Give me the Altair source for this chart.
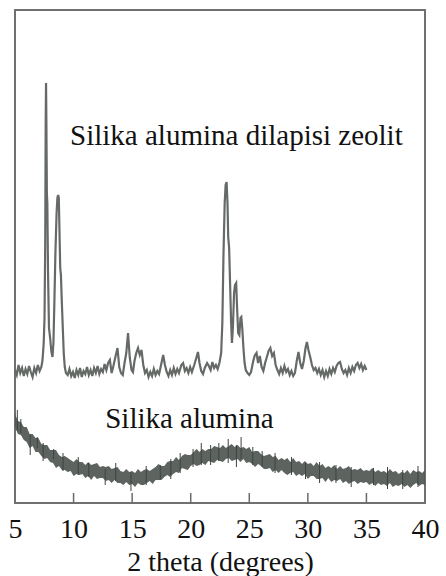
import altair as alt
import pandas as pd

# ---- Silika alumina dilapisi zeolit (upper pattern) ----
zeo_deg = [5.00, 5.15, 5.30, 5.45, 5.60, 5.75, 5.90, 6.05, 6.20, 6.35, 6.50, 6.65, 6.80, 6.95, 7.10, 7.25,
           7.35, 7.45, 7.52, 7.58, 7.62, 7.65, 7.68, 7.72, 7.76, 7.82, 7.90, 8.00, 8.10, 8.20, 8.28, 8.36,
           8.45, 8.55, 8.62, 8.68, 8.74, 8.80, 8.86, 8.92, 9.00, 9.08, 9.16, 9.25, 9.35, 9.50, 9.65, 9.80,
           9.95, 10.10, 10.25, 10.40, 10.55, 10.70, 10.85, 11.00, 11.15, 11.30, 11.45, 11.60, 11.75, 11.90,
           12.05, 12.20, 12.35, 12.50, 12.65, 12.80, 12.95, 13.10, 13.25, 13.40, 13.55, 13.75, 13.90, 14.05,
           14.20, 14.35, 14.50, 14.65, 14.80, 14.95, 15.07, 15.20, 15.35, 15.50, 15.65, 15.80, 15.95, 16.10,
           16.25, 16.40, 16.55, 16.70, 16.85, 17.00, 17.15, 17.30, 17.45, 17.65, 17.80, 17.95, 18.10, 18.25,
           18.40, 18.55, 18.70, 18.85, 19.00, 19.20, 19.35, 19.50, 19.65, 19.80, 19.95, 20.10, 20.30, 20.45,
           20.62, 20.75, 20.90, 21.05, 21.20, 21.40, 21.55, 21.70, 21.85, 22.00, 22.15, 22.30, 22.45, 22.60,
           22.70, 22.80, 22.90, 22.98, 23.06, 23.14, 23.20, 23.28, 23.36, 23.45, 23.52, 23.60, 23.70, 23.78,
           23.88, 23.96, 24.05, 24.15, 24.25, 24.32, 24.40, 24.50, 24.60, 24.70, 24.85, 25.00, 25.15, 25.30,
           25.45, 25.62, 25.75, 25.90, 26.05, 26.20, 26.35, 26.50, 26.65, 26.80, 26.95, 27.10, 27.25, 27.40,
           27.55, 27.70, 27.85, 28.00, 28.15, 28.30, 28.45, 28.60, 28.75, 28.90, 29.05, 29.20, 29.35, 29.50,
           29.65, 29.80, 29.92, 30.05, 30.20, 30.35, 30.50, 30.65, 30.80, 30.95, 31.10, 31.25, 31.40, 31.55,
           31.70, 31.85, 32.00, 32.15, 32.30, 32.45, 32.60, 32.75, 32.90, 33.05, 33.20, 33.35, 33.50, 33.65,
           33.80, 33.95, 34.10, 34.25, 34.40, 34.55, 34.70, 34.85, 35.00]
zeo_int = [133, 128, 138, 130, 135, 127, 134, 129, 137, 131, 126, 135, 130, 138, 132, 136,
           143, 160, 185, 260, 380, 420, 380, 310, 300, 230, 175, 165, 152, 146, 160, 200,
           250, 290, 305, 308, 305, 270, 235, 228, 200, 175, 150, 136, 130, 128, 134, 127,
           131, 125, 133, 128, 135, 126, 132, 129, 136, 128, 133, 127, 135, 130,
           137, 129, 134, 131, 139, 133, 140, 143, 130, 137, 145, 155, 136, 130,
           128, 140, 150, 170, 145, 133, 131, 142, 150, 155, 148, 153, 138, 130,
           133, 126, 131, 127, 134, 128, 132, 129, 137, 148, 138, 131, 127, 133,
           128, 135, 129, 134, 130, 138, 140, 132, 135, 130, 136, 131, 138, 144,
           151, 140, 132, 129, 135, 140, 137, 133, 141, 135, 138, 134, 140, 150,
           180, 250, 300, 318, 321, 300, 266, 255, 220, 180, 160, 175, 210, 218,
           220, 195, 170, 168, 185, 186, 175, 155, 140, 133, 130, 128, 131, 140,
           147, 150, 140, 147, 136, 132, 140, 146, 152, 155, 147, 150, 138, 133,
           129, 135, 130, 137, 131, 134, 128, 132, 127, 130, 142, 151, 140, 134,
           142, 155, 161, 153, 146, 138, 133, 135, 130, 134, 128, 133, 126, 132,
           127, 134, 129, 135, 131, 137, 140, 141, 134, 130, 133, 128, 135, 130,
           136, 132, 138, 140, 135, 139, 133, 137, 133]

# ---- Silika alumina (lower amorphous pattern): noisy band edges, every 0.25 deg ----
sa_deg = [5 + 0.25 * i for i in range(141)]
sa_top = [89, 82, 81, 76, 76, 69, 69, 65, 65, 59,
          58, 58, 53, 53, 53, 48, 46, 47, 45, 43,
          41, 44, 41, 41, 38, 41, 38, 39, 40, 36,
          37, 36, 37, 34, 35, 36, 32, 31, 34, 31,
          32, 30, 34, 31, 33, 34, 32, 34, 36, 39,
          37, 37, 41, 42, 42, 46, 43, 47, 49, 48,
          48, 51, 54, 51, 54, 52, 54, 54, 57, 56,
          55, 58, 55, 57, 59, 56, 58, 55, 56, 54,
          56, 51, 52, 52, 49, 47, 48, 49, 46, 47,
          43, 45, 43, 45, 41, 45, 41, 42, 39, 42,
          39, 40, 37, 41, 37, 39, 35, 37, 35, 38,
          34, 37, 34, 35, 37, 33, 34, 33, 35, 32,
          33, 32, 35, 31, 33, 31, 32, 30, 34, 31,
          32, 29, 31, 30, 33, 29, 33, 31, 32, 30,
          33]
sa_bot = [76, 69, 68, 63, 61, 55, 57, 51, 51, 47,
          44, 45, 41, 40, 35, 37, 33, 33, 31, 32,
          27, 29, 28, 29, 25, 27, 23, 27, 24, 25,
          25, 22, 23, 20, 23, 20, 20, 18, 21, 18,
          19, 16, 20, 18, 18, 20, 22, 19, 23, 23,
          23, 26, 28, 26, 29, 31, 30, 35, 34, 33,
          37, 39, 37, 38, 40, 38, 42, 41, 40, 43,
          42, 41, 44, 45, 42, 43, 44, 41, 44, 40,
          41, 39, 36, 39, 37, 34, 34, 35, 31, 33,
          30, 33, 30, 28, 30, 31, 27, 29, 27, 29,
          24, 27, 27, 24, 24, 25, 21, 25, 21, 23,
          22, 24, 20, 22, 19, 21, 22, 19, 21, 20,
          21, 18, 20, 17, 20, 18, 19, 17, 20, 16,
          18, 17, 19, 16, 18, 15, 18, 20, 17, 19,
          18]

# noise spikes of the lower pattern
spike_deg = [5.2, 5.5, 6.3, 6.9, 7.4, 8.3, 9.1, 10.4, 11.3, 12.7, 13.6, 14.9, 16.2, 17.4, 18.3,
             19.1, 20.2, 20.9, 21.7, 22.4, 23.2, 23.9, 24.3, 25.3, 26.1, 27.2, 28.6, 29.8, 31.0,
             32.4, 33.7, 35.6, 36.8, 38.1, 39.4]
spike_lo = [72, 70, 48, 55, 42, 44, 32, 28, 26, 18, 22, 12, 18, 24, 24,
            30, 36, 38, 38, 42, 40, 36, 44, 38, 36, 30, 28, 24, 20,
            20, 16, 18, 14, 14, 16]
spike_hi = [93, 84, 68, 66, 60, 54, 50, 46, 40, 34, 40, 31, 37, 38, 44,
            50, 54, 60, 58, 60, 64, 58, 66, 56, 52, 50, 46, 40, 41,
            38, 36, 35, 36, 33, 37]

tick_values = [5, 10, 15, 20, 25, 30, 35, 40]
inner_ticks = [10, 15, 20, 25, 30, 35]

labels = ["Silika alumina dilapisi zeolit", "Silika alumina"]
label_x = [9.7, 12.7]
label_y = [358, 75]

zeo = pd.DataFrame({"deg": zeo_deg, "inten": zeo_int})
sa = pd.DataFrame({"deg": sa_deg, "top": sa_top, "bot": sa_bot})
spikes = pd.DataFrame({"deg": spike_deg, "lo": spike_lo, "hi": spike_hi})
ticks = pd.DataFrame({"deg": inner_ticks, "y0": [0] * len(inner_ticks), "y1": [10] * len(inner_ticks)})
ann = pd.DataFrame({"text": labels, "deg": label_x, "inten": label_y})

FONT = "Liberation Serif, Times New Roman, serif"
xs = alt.Scale(domain=[5, 40], nice=False, zero=False)
ys = alt.Scale(domain=[0, 493], nice=False, zero=True)

xaxis = alt.Axis(values=tick_values, ticks=False, domain=False, grid=False,
                 labelFont=FONT, labelFontSize=28, labelColor="#111", labelFlush=False,
                 labelPadding=12, title="2 theta (degrees)", titleFont=FONT,
                 titleFontSize=28, titleFontWeight="normal", titleColor="#111", titlePadding=5)

band = alt.Chart(sa).mark_area(color="#4f5753", opacity=0.92).encode(
    x=alt.X("deg:Q", scale=xs, axis=xaxis),
    y=alt.Y("top:Q", scale=ys, axis=None),
    y2="bot:Q",
)
spk = alt.Chart(spikes).mark_rule(color="#3c4340", strokeWidth=1).encode(
    x=alt.X("deg:Q", scale=xs),
    y=alt.Y("lo:Q", scale=ys),
    y2="hi:Q",
)
line = alt.Chart(zeo).mark_line(color="#656a67", strokeWidth=2.2).encode(
    x=alt.X("deg:Q", scale=xs),
    y=alt.Y("inten:Q", scale=ys),
)
tk = alt.Chart(ticks).mark_rule(color="#6a6a6a", strokeWidth=1.5).encode(
    x=alt.X("deg:Q", scale=xs),
    y=alt.Y("y0:Q", scale=ys),
    y2="y1:Q",
)
txt = alt.Chart(ann).mark_text(font=FONT, fontSize=29, color="#111", align="left",
                               baseline="alphabetic").encode(
    x=alt.X("deg:Q", scale=xs),
    y=alt.Y("inten:Q", scale=ys),
    text="text:N",
)

chart = alt.layer(band, spk, line, tk, txt).properties(
    width=410, height=493,
    padding={"left": 15, "top": 10, "right": 21, "bottom": 73},
    autosize="none",
    background="white",
).configure_view(stroke="#707070", strokeWidth=2)

chart.save("out.html", embed_options={"renderer": "svg", "actions": False})
